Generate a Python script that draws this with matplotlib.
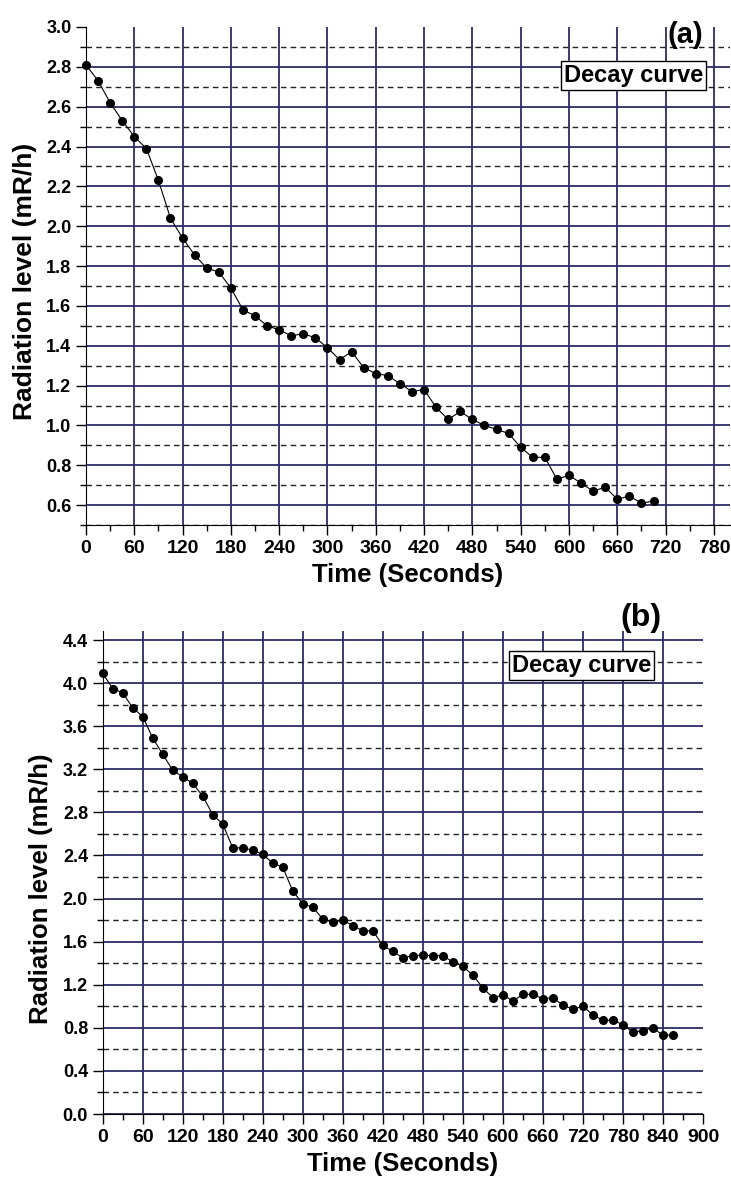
import numpy as np
import matplotlib
matplotlib.use('Agg')
import matplotlib.pyplot as plt
from matplotlib.ticker import MultipleLocator

plt.rcParams['font.family'] = ['Liberation Sans', 'DejaVu Sans']
plt.rcParams['font.weight'] = 'bold'

# panel (a): readings every 15 s
time_a = np.arange(0, 706, 15)
level_a = [2.81, 2.73, 2.62, 2.53, 2.45, 2.39, 2.23, 2.04, 1.94, 1.855, 1.79, 1.77,
           1.69, 1.58, 1.55, 1.50, 1.48, 1.45, 1.46, 1.44, 1.39, 1.33, 1.37, 1.29,
           1.26, 1.25, 1.21, 1.17, 1.18, 1.09, 1.03, 1.07, 1.03, 1.00, 0.98, 0.96,
           0.89, 0.84, 0.84, 0.73, 0.75, 0.71, 0.67, 0.69, 0.63, 0.645, 0.61, 0.62]

# panel (b): readings every 15 s
time_b = np.arange(0, 856, 15)
level_b = [4.09, 3.95, 3.91, 3.77, 3.69, 3.49, 3.34, 3.19, 3.13, 3.07, 2.95, 2.78,
           2.69, 2.47, 2.47, 2.45, 2.41, 2.33, 2.29, 2.07, 1.95, 1.92, 1.81, 1.78,
           1.80, 1.75, 1.70, 1.70, 1.565, 1.51, 1.45, 1.47, 1.475, 1.47, 1.47, 1.41,
           1.37, 1.29, 1.17, 1.08, 1.105, 1.05, 1.11, 1.11, 1.07, 1.08, 1.01, 0.975,
           1.00, 0.92, 0.87, 0.87, 0.83, 0.76, 0.775, 0.80, 0.73, 0.735]

grid_col = '#2d2c66'
narrow = ['Liberation Sans Narrow', 'Liberation Sans', 'DejaVu Sans']

fig = plt.figure(figsize=(7.31, 11.78), dpi=100)
ax1 = fig.add_axes([0.1176, 0.5543, 0.881, 0.4228])
ax2 = fig.add_axes([0.1405, 0.0543, 0.8212, 0.4097])


def style(ax, xmax, xlim, ymin, ymax, ymaj, ymin_step, ylab_size, ylab_pos, box_xy):
    ax.set_xlim(0, xlim)
    ax.set_ylim(ymin, ymax)
    ax.xaxis.set_minor_locator(MultipleLocator(30))
    ax.yaxis.set_major_locator(MultipleLocator(ymaj))
    ax.yaxis.set_minor_locator(MultipleLocator(ymin_step))
    ax.set_xticks(np.arange(0, xmax + 1, 60))
    for s in ['top', 'right']:
        ax.spines[s].set_visible(False)
    ax.tick_params(which='both', direction='out', width=1)
    ax.tick_params(which='major', length=7)
    ax.tick_params(which='minor', length=4)
    ax.tick_params(axis='y', which='major', labelsize=13)
    ax.tick_params(axis='x', which='major', labelsize=14, pad=4)
    ax.grid(which='major', color=grid_col, linewidth=1.3, linestyle='-')
    ax.grid(which='minor', axis='y', color='#222222', linewidth=1.0,
            linestyle=(0, (4, 3)))
    ax.grid(which='minor', axis='x', visible=False)
    ax.set_axisbelow(True)
    for lab in ax.get_yticklabels():
        lab.set_fontweight('bold')
    for lab in ax.get_xticklabels():
        lab.set_fontweight('bold')
        lab.set_family(narrow)
    ax.set_xlabel('Time (Seconds)', fontsize=18.5, fontweight='bold', labelpad=4)
    ax.set_ylabel('Radiation level (mR/h)', fontsize=ylab_size, fontweight='bold')
    ax.yaxis.set_label_coords(*ylab_pos)
    ax.text(box_xy[0], box_xy[1], 'Decay curve', transform=ax.transAxes,
            fontsize=17, fontweight='bold', ha='right', va='top',
            bbox=dict(boxstyle='square,pad=0.12', fc='white', ec='black', lw=1))


style(ax1, 780, 800, 0.5, 3.0, 0.2, 0.1, 19, (-0.076, 0.49), (0.958, 0.926))
style(ax2, 900, 900, 0.0, 4.48, 0.4, 0.2, 18.5, (-0.083, 0.466), (0.913, 0.953))

fig.text(0.9617, 0.9703, '(a)', fontsize=21, fontweight='bold', ha='right',
         va='center')
fig.text(0.9056, 0.4754, '(b)', fontsize=23, fontweight='bold', ha='right',
         va='center')

# hide gridlines lying on the plot edges
for t in ax1.yaxis.get_major_ticks():
    if abs(t.get_loc() - 3.0) < 1e-6:
        t.gridline.set_visible(False)
for t in ax2.xaxis.get_major_ticks():
    if abs(t.get_loc() - 900) < 1e-6:
        t.gridline.set_visible(False)

ax1.plot(time_a, level_a, color='black', lw=0.8, marker='o', ms=5.5, clip_on=False,
         zorder=5)
ax2.plot(time_b, level_b, color='black', lw=0.8, marker='o', ms=5.5, clip_on=False,
         zorder=5)

fig.savefig('out.png', dpi=100)
